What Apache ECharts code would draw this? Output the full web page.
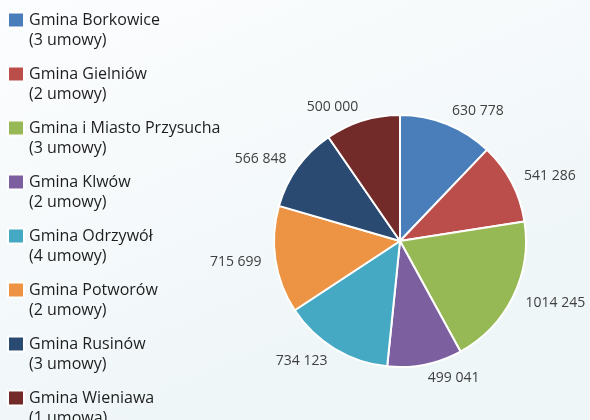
<!DOCTYPE html>
<html>
<head>
<meta charset="utf-8">
<script src="https://cdn.jsdelivr.net/npm/echarts@6/dist/echarts.min.js"></script>
<style>
html,body{margin:0;padding:0;}
#chart{width:590px;height:420px;}
</style>
</head>
<body>
<div id="chart"></div>
<script>
const categories = ['Gmina Borkowice', 'Gmina Gielniów', 'Gmina i Miasto Przysucha', 'Gmina Klwów', 'Gmina Odrzywół', 'Gmina Potworów', 'Gmina Rusinów', 'Gmina Wieniawa'];
const contracts = ['(3 umowy)', '(2 umowy)', '(3 umowy)', '(2 umowy)', '(4 umowy)', '(2 umowy)', '(3 umowy)', '(1 umowa)'];
const values = [630778, 541286, 1014245, 499041, 734123, 715699, 566848, 500000];
const colors = ['#4a7ebb', '#bb4e4b', '#97b955', '#7b5f9e', '#46a9c4', '#ec9444', '#2a4a72', '#722b29'];

function fmt(v) {
  const hi = Math.floor(v / 1000);
  const lo = String(v % 1000).padStart(3, '0');
  return hi + ' ' + lo;
}

const chart = echarts.init(document.getElementById('chart'), null, {renderer: 'canvas'});
chart.setOption({
  backgroundColor: {
    type: 'linear', x: 0, y: 0, x2: 0.3, y2: 1,
    colorStops: [{offset: 0, color: '#fcfdfe'}, {offset: 1, color: '#eff6f8'}]
  },
  color: colors,
  animation: false,
  legend: {
    orient: 'vertical',
    left: 7,
    top: -8,
    height: 480,
    padding: 0,
    itemWidth: 16,
    itemHeight: 15,
    itemGap: -2.5,
    icon: 'rect',
    selectedMode: false,
    data: categories,
    formatter: function (name) {
      return '{e|\u00a0}\n{t|' + name + '}\n{t|' + contracts[categories.indexOf(name)] + '}';
    },
    textStyle: {
      fontFamily: 'Open Sans',
      fontSize: 16,
      color: '#1e1e1e',
      rich: {
        e: {fontFamily: 'Open Sans', fontSize: 16, lineHeight: 21},
        t: {fontFamily: 'Open Sans', fontSize: 16, lineHeight: 20, color: '#1e1e1e'}
      }
    }
  },
  series: [{
    type: 'pie',
    center: [400, 241],
    radius: [0, 126],
    startAngle: 90,
    clockwise: true,
    avoidLabelOverlap: false,
    itemStyle: {borderColor: '#ffffff', borderWidth: 2},
    label: {
      show: true,
      position: 'outside',
      formatter: function (p) { return fmt(p.value); },
      fontFamily: 'Open Sans',
      fontSize: 14,
      color: '#404040',
      distanceToLabelLine: 0
    },
    labelLine: {show: false, length: 14, length2: 0},
    emphasis: {disabled: true},
    data: categories.map(function (c, i) { return {name: c, value: values[i]}; })
  }]
});
</script>
</body>
</html>
